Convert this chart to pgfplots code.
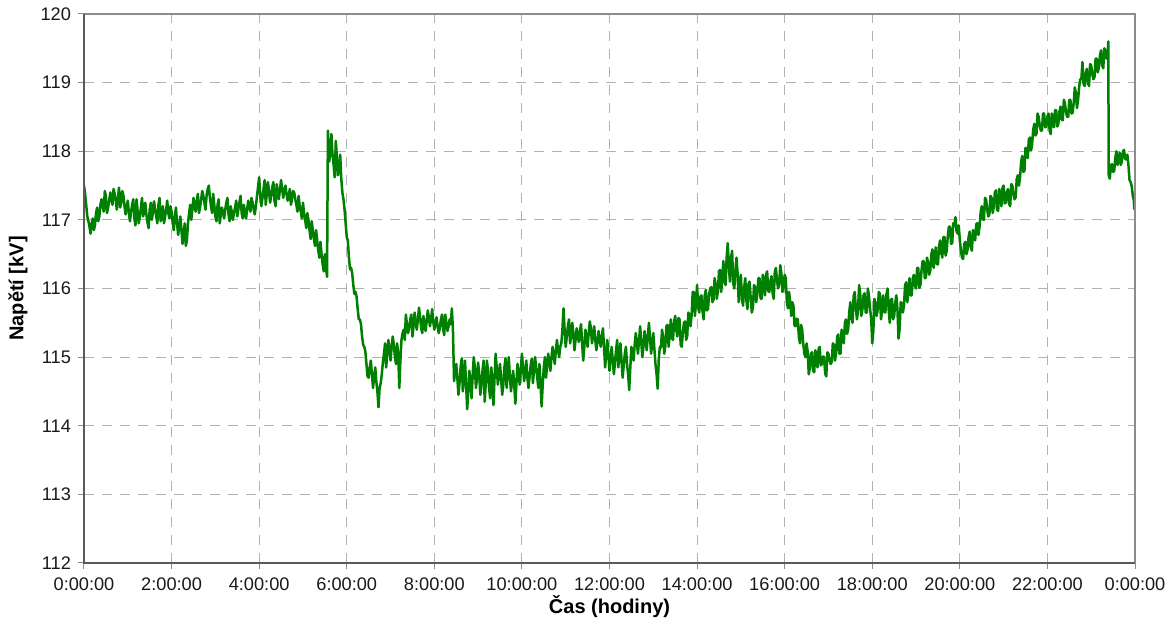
\documentclass[border=0pt]{standalone}
\usepackage{pgfplots}
\pgfplotsset{compat=1.18}
\usepackage{fontspec}
\setmainfont{Liberation Sans}
\definecolor{trace}{RGB}{0,128,0}
\definecolor{gridc}{RGB}{178,178,178}
\definecolor{framel}{RGB}{90,90,90}
\definecolor{framer}{RGB}{140,140,140}
\definecolor{labc}{RGB}{25,25,25}
\begin{document}
\begin{tikzpicture}
\path[use as bounding box] (-42pt,-31pt) rectangle (544.5pt,281.5pt);
\begin{axis}[
  scale only axis, width=525.5pt, height=274.5pt,
  xmin=0, xmax=24, ymin=112, ymax=120,
  xtick={0,2,...,24},
  xticklabels={0:00:00,2:00:00,4:00:00,6:00:00,8:00:00,10:00:00,12:00:00,14:00:00,16:00:00,18:00:00,20:00:00,22:00:00,0:00:00},
  ytick={112,113,...,120},
  /pgf/number format/assume math mode=true,
  xtick pos=bottom, ytick pos=left,
  tick align=outside, major tick length=3pt,
  tick style={framer, line width=0.5pt},
  axis line style={draw=none},
  grid=major,
  major grid style={gridc, dash pattern=on 5pt off 4pt, line width=0.55pt},
  tick label style={font=\fontsize{9.1}{11}\selectfont, text=labc},
  xticklabel style={yshift=-1pt},
  xlabel={\textbf{Čas (hodiny)}},
  ylabel={\textbf{Napětí [kV]}},
  label style={font=\fontsize{8.4}{10}\selectfont, text=labc},
  every axis x label/.style={at={(axis description cs:0.5,-0.080)}, anchor=center},
  every axis y label/.style={at={(axis description cs:-0.0628,0.5)}, anchor=center, rotate=90},
  after end axis/.code={
    \draw[framer, line width=0.6pt] (rel axis cs:0,1) -- (rel axis cs:1,1) -- (rel axis cs:1,0);
    \draw[framel, line width=0.7pt] (rel axis cs:0,1) -- (rel axis cs:0,0) -- (rel axis cs:1,0);
  },
]
% voltage over one day, one sample every 1.5 minutes
\addplot[trace, line width=1.25pt, line join=round] coordinates {
(0.00,117.50)(0.025,117.38)(0.05,117.22)(0.075,117.05)(0.10,116.98)(0.125,116.90)(0.15,116.80)(0.175,116.95)(0.20,117.02)(0.225,116.85)
(0.25,116.92)(0.275,117.10)(0.30,117.18)(0.325,116.98)(0.35,117.05)(0.375,117.22)(0.40,117.30)(0.425,117.20)(0.45,117.12)(0.475,117.42)
(0.50,117.35)(0.525,117.10)(0.55,117.18)(0.575,117.28)(0.60,117.40)(0.625,117.30)(0.65,117.22)(0.675,117.45)(0.70,117.38)(0.725,117.28)
(0.75,117.15)(0.775,117.32)(0.80,117.47)(0.825,117.18)(0.85,117.25)(0.875,117.42)(0.90,117.36)(0.925,117.20)(0.95,117.08)(0.975,117.18)
(1.00,117.28)(1.025,117.10)(1.05,116.98)(1.075,117.12)(1.10,117.22)(1.125,117.30)(1.15,117.02)(1.175,116.92)(1.20,117.30)(1.225,117.12)
(1.25,116.95)(1.275,117.05)(1.30,117.18)(1.325,117.32)(1.35,117.05)(1.375,117.12)(1.40,117.25)(1.425,117.08)(1.45,116.96)(1.475,116.88)
(1.50,117.15)(1.525,117.25)(1.55,117.00)(1.575,117.12)(1.60,117.27)(1.625,117.15)(1.65,117.05)(1.675,116.95)(1.70,117.22)(1.725,117.32)
(1.75,116.98)(1.775,117.08)(1.80,117.20)(1.825,116.95)(1.85,117.04)(1.875,117.15)(1.90,117.28)(1.925,117.10)(1.95,117.02)(1.975,117.20)
(2.00,117.12)(2.025,116.95)(2.05,116.85)(2.075,117.05)(2.10,117.18)(2.125,116.95)(2.15,116.78)(2.175,116.90)(2.20,117.05)(2.225,116.85)
(2.25,116.65)(2.275,116.80)(2.30,116.95)(2.325,116.62)(2.35,116.70)(2.375,116.95)(2.40,117.10)(2.425,117.22)(2.45,117.00)(2.475,117.15)
(2.50,117.32)(2.525,117.20)(2.55,117.12)(2.575,117.28)(2.60,117.38)(2.625,117.10)(2.65,117.18)(2.675,117.30)(2.70,117.42)(2.725,117.35)
(2.75,117.25)(2.775,117.15)(2.80,117.36)(2.825,117.45)(2.85,117.50)(2.875,117.32)(2.90,117.20)(2.925,117.10)(2.95,117.38)(2.975,117.22)
(3.00,117.05)(3.025,116.98)(3.05,117.22)(3.075,117.30)(3.10,116.95)(3.125,117.08)(3.15,117.18)(3.175,117.10)(3.20,117.02)(3.225,117.15)
(3.25,117.25)(3.275,117.32)(3.30,117.08)(3.325,116.98)(3.35,117.20)(3.375,117.12)(3.40,117.00)(3.425,117.10)(3.45,117.18)(3.475,117.28)
(3.50,117.05)(3.525,117.15)(3.55,117.26)(3.575,117.35)(3.60,117.10)(3.625,117.02)(3.65,117.22)(3.675,117.12)(3.70,117.02)(3.725,117.15)
(3.75,117.28)(3.775,117.20)(3.80,117.12)(3.825,117.32)(3.85,117.25)(3.875,117.15)(3.90,117.08)(3.925,117.20)(3.95,117.35)(3.975,117.48)
(4.00,117.62)(4.025,117.35)(4.05,117.20)(4.075,117.32)(4.10,117.45)(4.125,117.58)(4.15,117.22)(4.175,117.38)(4.20,117.55)(4.225,117.42)
(4.25,117.25)(4.275,117.35)(4.30,117.48)(4.325,117.55)(4.35,117.28)(4.375,117.20)(4.40,117.52)(4.425,117.40)(4.45,117.30)(4.475,117.45)
(4.50,117.58)(4.525,117.45)(4.55,117.32)(4.575,117.42)(4.60,117.50)(4.625,117.38)(4.65,117.28)(4.675,117.35)(4.70,117.45)(4.725,117.22)
(4.75,117.30)(4.775,117.42)(4.80,117.40)(4.825,117.30)(4.85,117.22)(4.875,117.12)(4.90,117.35)(4.925,117.20)(4.95,117.12)(4.975,117.02)
(5.00,117.25)(5.025,117.10)(5.05,117.00)(5.075,116.88)(5.10,117.10)(5.125,117.00)(5.15,116.85)(5.175,116.72)(5.20,116.98)(5.225,116.85)
(5.25,116.72)(5.275,116.62)(5.30,116.85)(5.325,116.70)(5.35,116.55)(5.375,116.45)(5.40,116.68)(5.425,116.50)(5.45,116.35)(5.475,116.25)
(5.50,116.50)(5.525,116.30)(5.55,116.17)(5.57,118.30)(5.585,118.05)(5.60,117.85)(5.625,118.00)(5.65,118.25)(5.675,117.95)(5.70,117.80)
(5.725,117.62)(5.75,118.15)(5.775,117.90)(5.80,117.65)(5.825,117.75)(5.85,117.95)(5.875,117.60)(5.90,117.40)(5.925,117.30)(5.95,117.15)
(5.975,116.95)(6.00,116.75)(6.025,116.70)(6.05,116.45)(6.075,116.28)(6.10,116.30)(6.125,116.22)(6.15,116.05)(6.175,115.92)(6.20,115.95)
(6.225,115.88)(6.25,115.70)(6.275,115.55)(6.30,115.55)(6.325,115.48)(6.35,115.30)(6.375,115.18)(6.40,115.15)(6.425,115.08)(6.45,114.90)
(6.475,114.72)(6.50,114.70)(6.525,114.85)(6.55,114.95)(6.575,114.75)(6.60,114.55)(6.625,114.70)(6.65,114.85)(6.675,114.65)(6.70,114.50)
(6.725,114.27)(6.75,114.55)(6.775,114.62)(6.80,114.75)(6.825,114.92)(6.85,115.05)(6.875,115.20)(6.90,114.85)(6.925,115.05)(6.95,115.25)
(6.975,115.12)(7.00,114.95)(7.025,115.15)(7.05,115.30)(7.075,115.18)(7.10,115.00)(7.125,114.90)(7.15,115.20)(7.175,115.05)(7.20,114.55)
(7.225,114.95)(7.25,115.25)(7.275,115.35)(7.30,115.40)(7.325,115.25)(7.35,115.62)(7.375,115.48)(7.40,115.35)(7.425,115.42)(7.45,115.55)
(7.475,115.62)(7.50,115.30)(7.525,115.45)(7.55,115.65)(7.575,115.50)(7.60,115.40)(7.625,115.55)(7.65,115.72)(7.675,115.58)(7.70,115.42)
(7.725,115.35)(7.75,115.60)(7.775,115.50)(7.80,115.38)(7.825,115.52)(7.85,115.68)(7.875,115.58)(7.90,115.45)(7.925,115.55)(7.95,115.70)
(7.975,115.52)(8.00,115.40)(8.025,115.48)(8.05,115.58)(8.075,115.45)(8.10,115.35)(8.125,115.42)(8.15,115.55)(8.175,115.62)(8.20,115.42)
(8.225,115.32)(8.25,115.62)(8.275,115.50)(8.30,115.38)(8.325,115.45)(8.35,115.55)(8.375,115.48)(8.40,115.71)(8.425,115.40)(8.45,114.65)
(8.475,114.78)(8.50,114.90)(8.525,114.70)(8.55,114.45)(8.575,114.62)(8.60,114.85)(8.625,114.98)(8.65,114.50)(8.675,114.70)(8.70,114.95)
(8.725,114.60)(8.75,114.24)(8.775,114.50)(8.80,114.80)(8.825,114.65)(8.85,114.40)(8.875,114.72)(8.90,115.00)(8.925,114.85)(8.95,114.55)
(8.975,114.70)(9.00,114.92)(9.025,114.75)(9.05,114.45)(9.075,114.58)(9.10,114.80)(9.125,114.95)(9.15,114.35)(9.175,114.62)(9.20,114.95)
(9.225,114.80)(9.25,114.55)(9.275,114.40)(9.30,114.85)(9.325,114.65)(9.35,114.30)(9.375,114.70)(9.40,115.05)(9.425,114.85)(9.45,114.60)
(9.475,114.75)(9.50,114.90)(9.525,114.68)(9.55,114.45)(9.575,114.60)(9.60,114.85)(9.625,114.98)(9.65,114.55)(9.675,114.75)(9.70,115.00)
(9.725,114.72)(9.75,114.50)(9.775,114.65)(9.80,114.80)(9.825,114.60)(9.85,114.32)(9.875,114.62)(9.90,114.90)(9.925,114.75)(9.95,114.60)
(9.975,114.82)(10.00,115.05)(10.025,114.85)(10.05,114.65)(10.075,114.78)(10.10,114.95)(10.125,114.70)(10.15,114.55)(10.175,114.72)(10.20,114.88)
(10.225,114.98)(10.25,114.62)(10.275,114.80)(10.30,115.00)(10.325,114.85)(10.35,114.70)(10.375,114.55)(10.40,114.90)(10.425,114.62)(10.45,114.28)
(10.475,114.60)(10.50,114.85)(10.525,115.00)(10.55,114.70)(10.575,114.88)(10.60,115.05)(10.625,114.92)(10.65,114.80)(10.675,115.00)(10.70,115.15)
(10.725,115.02)(10.75,114.90)(10.775,115.10)(10.80,115.25)(10.825,115.10)(10.85,115.00)(10.875,115.15)(10.90,115.20)(10.925,115.40)(10.95,115.71)
(10.975,115.40)(11.00,115.15)(11.025,115.30)(11.05,115.45)(11.075,115.55)(11.10,115.20)(11.125,115.32)(11.15,115.50)(11.175,115.35)(11.20,115.10)
(11.225,115.25)(11.25,115.42)(11.275,115.30)(11.30,115.22)(11.325,115.38)(11.35,115.48)(11.375,115.20)(11.40,114.95)(11.425,115.15)(11.45,115.40)
(11.475,115.28)(11.50,115.15)(11.525,115.35)(11.55,115.52)(11.575,115.42)(11.60,115.20)(11.625,115.32)(11.65,115.45)(11.675,115.25)(11.70,115.10)
(11.725,115.22)(11.75,115.38)(11.775,115.25)(11.80,115.15)(11.825,115.30)(11.85,115.42)(11.875,115.15)(11.90,114.85)(11.925,115.05)(11.95,115.25)
(11.975,115.02)(12.00,114.80)(12.025,114.98)(12.05,115.15)(12.075,114.95)(12.10,114.75)(12.125,114.92)(12.15,115.10)(12.175,115.25)(12.20,114.85)
(12.225,115.00)(12.25,115.20)(12.275,114.95)(12.30,114.70)(12.325,114.88)(12.35,115.05)(12.375,115.15)(12.40,114.90)(12.425,114.75)(12.45,114.52)
(12.475,114.85)(12.50,115.15)(12.525,115.05)(12.55,114.95)(12.575,115.18)(12.60,115.35)(12.625,115.20)(12.65,115.05)(12.675,115.25)(12.70,115.45)
(12.725,115.22)(12.75,115.00)(12.775,115.15)(12.80,115.38)(12.825,115.25)(12.85,115.10)(12.875,115.30)(12.90,115.50)(12.925,115.28)(12.95,115.05)
(12.975,115.20)(13.00,115.35)(13.025,115.12)(13.05,114.90)(13.075,114.75)(13.10,114.54)(13.125,114.97)(13.15,115.15)(13.175,115.14)(13.20,115.40)
(13.225,115.28)(13.25,115.05)(13.275,115.16)(13.30,115.45)(13.325,115.47)(13.35,115.15)(13.375,115.32)(13.40,115.55)(13.425,115.28)(13.45,115.25)
(13.475,115.52)(13.50,115.60)(13.525,115.39)(13.55,115.30)(13.575,115.57)(13.60,115.55)(13.625,115.18)(13.65,115.15)(13.675,115.36)(13.70,115.50)
(13.725,115.52)(13.75,115.25)(13.775,115.31)(13.80,115.65)(13.825,115.61)(13.85,115.45)(13.875,115.61)(13.90,115.95)(13.925,115.95)(13.95,115.60)
(13.975,115.79)(14.00,116.05)(14.025,115.73)(14.05,115.65)(14.075,115.88)(14.10,115.90)(14.125,115.66)(14.15,115.55)(14.175,115.90)(14.20,115.98)
(14.225,115.68)(14.25,115.70)(14.275,115.92)(14.30,116.00)(14.325,116.02)(14.35,115.80)(14.375,115.84)(14.40,116.15)(14.425,116.06)(14.45,115.85)
(14.475,115.96)(14.50,116.25)(14.525,116.27)(14.55,115.95)(14.575,116.15)(14.60,116.40)(14.625,116.10)(14.65,116.05)(14.675,116.45)(14.70,116.66)
(14.725,116.32)(14.75,116.10)(14.775,116.45)(14.80,116.55)(14.825,116.08)(14.85,116.00)(14.875,116.26)(14.90,116.45)(14.925,116.22)(14.95,115.80)
(14.975,116.12)(15.00,116.20)(15.025,115.84)(15.05,115.75)(15.075,116.01)(15.10,116.15)(15.125,115.83)(15.15,115.70)(15.175,116.07)(15.20,116.10)
(15.225,115.85)(15.25,115.65)(15.275,115.73)(15.30,116.05)(15.325,116.02)(15.35,115.80)(15.375,115.92)(15.40,116.15)(15.425,116.15)(15.45,115.85)
(15.475,115.85)(15.50,116.20)(15.525,116.09)(15.55,115.90)(15.575,116.20)(15.60,116.25)(15.625,115.96)(15.65,115.95)(15.675,116.11)(15.70,116.18)
(15.725,115.93)(15.75,115.85)(15.775,116.25)(15.80,116.30)(15.825,116.12)(15.85,116.00)(15.875,116.06)(15.90,116.34)(15.925,116.22)(15.95,115.95)
(15.975,116.02)(16.00,116.20)(16.025,116.15)(16.05,115.80)(16.075,115.71)(16.10,115.95)(16.125,115.82)(16.15,115.60)(16.175,115.80)(16.20,115.75)
(16.225,115.46)(16.25,115.45)(16.275,115.56)(16.30,115.55)(16.325,115.29)(16.35,115.20)(16.375,115.47)(16.40,115.40)(16.425,115.19)(16.45,115.05)
(16.475,115.00)(16.50,115.20)(16.525,115.08)(16.55,114.75)(16.575,114.84)(16.60,115.05)(16.625,115.07)(16.65,114.80)(16.675,114.78)(16.70,115.10)
(16.725,115.02)(16.75,114.85)(16.775,115.12)(16.80,115.15)(16.825,114.88)(16.85,114.90)(16.875,115.01)(16.90,115.00)(16.925,114.76)(16.95,114.72)
(16.975,115.07)(17.00,115.05)(17.025,114.95)(17.05,114.90)(17.075,114.93)(17.10,115.20)(17.125,115.18)(17.15,114.95)(17.175,115.06)(17.20,115.30)
(17.225,115.33)(17.25,115.05)(17.275,115.05)(17.30,115.40)(17.325,115.34)(17.35,115.20)(17.375,115.50)(17.40,115.55)(17.425,115.34)(17.45,115.40)
(17.475,115.66)(17.50,115.80)(17.525,115.56)(17.55,115.50)(17.575,115.89)(17.60,115.95)(17.625,115.72)(17.65,115.55)(17.675,115.68)(17.70,116.05)
(17.725,115.92)(17.75,115.60)(17.775,115.69)(17.80,115.90)(17.825,115.93)(17.85,115.65)(17.875,115.65)(17.90,116.00)(17.925,115.89)(17.95,115.70)
(17.975,115.57)(18.00,115.20)(18.025,115.38)(18.05,115.85)(18.075,115.78)(18.10,115.60)(18.125,115.69)(18.15,115.95)(18.175,115.92)(18.20,115.55)
(18.225,115.69)(18.25,115.90)(18.275,115.66)(18.30,115.65)(18.325,115.92)(18.35,116.00)(18.375,115.69)(18.40,115.50)(18.425,115.83)(18.45,115.85)
(18.475,115.55)(18.50,115.60)(18.525,115.79)(18.55,115.90)(18.575,115.70)(18.60,115.27)(18.625,115.41)(18.65,115.80)(18.675,115.78)(18.70,115.65)
(18.725,115.76)(18.75,116.05)(18.775,116.09)(18.80,115.80)(18.825,115.95)(18.85,116.15)(18.875,115.90)(18.90,115.90)(18.925,116.15)(18.95,116.20)
(18.975,116.04)(19.00,116.00)(19.025,116.30)(19.05,116.30)(19.075,116.01)(19.10,116.05)(19.125,116.26)(19.15,116.40)(19.175,116.40)(19.20,116.15)
(19.225,116.16)(19.25,116.45)(19.275,116.38)(19.30,116.20)(19.325,116.26)(19.35,116.50)(19.375,116.57)(19.40,116.30)(19.425,116.42)(19.45,116.60)
(19.475,116.36)(19.50,116.35)(19.525,116.62)(19.55,116.70)(19.575,116.52)(19.60,116.45)(19.625,116.75)(19.65,116.75)(19.675,116.48)(19.70,116.55)
(19.725,116.76)(19.75,116.90)(19.775,116.90)(19.80,116.65)(19.825,116.66)(19.85,116.95)(19.875,116.92)(19.90,117.04)(19.925,116.83)(19.95,116.80)
(19.975,116.92)(20.00,116.70)(20.025,116.55)(20.05,116.45)(20.075,116.43)(20.10,116.65)(20.125,116.68)(20.15,116.50)(20.175,116.56)(20.20,116.75)
(20.225,116.83)(20.25,116.60)(20.275,116.55)(20.30,116.85)(20.325,116.82)(20.35,116.70)(20.375,116.94)(20.40,116.95)(20.425,116.78)(20.45,116.90)
(20.475,117.11)(20.50,117.20)(20.525,117.01)(20.55,117.00)(20.575,117.32)(20.60,117.30)(20.625,117.15)(20.65,117.05)(20.675,117.08)(20.70,117.35)
(20.725,117.32)(20.75,117.10)(20.775,117.19)(20.80,117.40)(20.825,117.43)(20.85,117.15)(20.875,117.13)(20.90,117.45)(20.925,117.36)(20.95,117.20)
(20.975,117.47)(21.00,117.50)(21.025,117.24)(21.05,117.25)(21.075,117.41)(21.10,117.45)(21.125,117.23)(21.15,117.20)(21.175,117.52)(21.20,117.50)
(21.225,117.37)(21.25,117.30)(21.275,117.33)(21.30,117.60)(21.325,117.65)(21.35,117.50)(21.375,117.62)(21.40,117.85)(21.425,117.93)(21.45,117.70)
(21.475,117.71)(21.50,118.05)(21.525,118.02)(21.55,117.90)(21.575,118.17)(21.60,118.20)(21.625,118.01)(21.65,118.10)(21.675,118.31)(21.70,118.40)
(21.725,118.23)(21.75,118.25)(21.775,118.55)(21.80,118.50)(21.825,118.37)(21.85,118.30)(21.875,118.30)(21.90,118.55)(21.925,118.55)(21.95,118.35)
(21.975,118.36)(22.00,118.50)(22.025,118.55)(22.05,118.30)(22.075,118.25)(22.10,118.55)(22.125,118.49)(22.15,118.35)(22.175,118.60)(22.20,118.60)
(22.225,118.36)(22.25,118.40)(22.275,118.58)(22.30,118.65)(22.325,118.46)(22.35,118.45)(22.375,118.75)(22.40,118.70)(22.425,118.57)(22.45,118.50)
(22.475,118.50)(22.50,118.75)(22.525,118.75)(22.55,118.55)(22.575,118.56)(22.60,118.70)(22.625,118.93)(22.65,118.85)(22.675,118.63)(22.70,118.75)
(22.725,118.94)(22.75,119.05)(22.775,119.05)(22.80,119.30)(22.825,118.98)(22.85,118.95)(22.875,119.14)(22.90,119.20)(22.925,118.99)(22.95,118.95)
(22.975,119.27)(23.00,119.25)(23.025,119.12)(23.05,119.05)(23.075,119.08)(23.10,119.35)(23.125,119.35)(23.15,119.15)(23.175,119.22)(23.20,119.40)
(23.225,119.47)(23.25,119.25)(23.275,119.21)(23.30,119.50)(23.325,119.46)(23.35,119.35)(23.375,119.40)(23.39,119.60)(23.40,117.65)(23.425,117.60)
(23.45,117.80)(23.475,117.81)(23.50,117.70)(23.525,117.71)(23.55,117.90)(23.575,118.00)(23.60,117.80)(23.625,117.87)(23.65,117.98)(23.675,117.80)
(23.70,117.85)(23.725,118.00)(23.75,118.02)(23.775,117.89)(23.80,117.88)(23.825,117.95)(23.85,117.80)(23.875,117.58)(23.90,117.55)(23.925,117.49)
(23.95,117.35)(23.975,117.28)(23.98,117.15)
};
\end{axis}
\end{tikzpicture}
\end{document}
